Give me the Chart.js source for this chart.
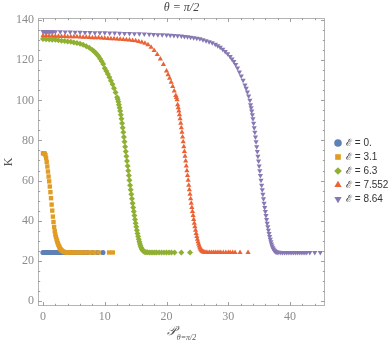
<!DOCTYPE html>
<html>
<head>
<meta charset="utf-8">
<script src="https://cdn.jsdelivr.net/npm/chart.js@4"></script>
<style>
  html, body { margin: 0; padding: 0; background: #fff; }
  #wrap { position: relative; width: 388px; height: 343px; }
</style>
</head>
<body>
<div id="wrap"><canvas id="chart" width="388" height="343"></canvas></div>
<script>
const X_TICKS = [0, 10, 20, 30, 40];
const Y_TICKS = [0, 20, 40, 60, 80, 100, 120, 140];
const X_MINOR = [2, 4, 6, 8, 12, 14, 16, 18, 22, 24, 26, 28, 32, 34, 36, 38, 42, 44];
const Y_MINOR = [5, 10, 15, 25, 30, 35, 45, 50, 55, 65, 70, 75, 85, 90, 95, 105, 110, 115, 125, 130, 135];
const LABELS = ["ℰ = 0.", "ℰ = 3.1", "ℰ = 6.3", "ℰ = 7.552", "ℰ = 8.64"];
const COLORS = ["#5e81b5", "#e19c24", "#8fb032", "#eb6235", "#8778b3"];

// [P, K] pairs
const E0 = [
  [0, 24.1], [0.15, 24.1], [0.3, 24.1], [0.45, 24.1], [0.6, 24.1], [0.8, 24.1], [1.0, 24.1], [1.2, 24.1],
  [1.4, 24.1], [1.6, 24.1], [1.8, 24.1], [2.0, 24.1], [2.2, 24.1], [2.4, 24.1], [2.6, 24.1], [2.8, 24.1],
  [3.0, 24.1], [3.2, 24.1], [3.5, 24.1], [3.8, 24.1], [4.2, 24.1], [4.6, 24.1], [5.0, 24.1], [5.5, 24.1],
  [6.0, 24.1], [6.6, 24.1], [7.2, 24.1], [8.0, 24.1], [8.8, 24.1], [9.7, 24.1]
];
const E31 = [
  [0.0, 73.6], [0.1, 73.6], [0.2, 73.5], [0.3, 73.3], [0.4, 72.6], [0.5, 71.2], [0.6, 69.3], [0.7, 67.0],
  [0.8, 64.5], [0.9, 62.0], [1.0, 59.6], [1.1, 57.0], [1.2, 54.2], [1.3, 51.2], [1.4, 48.0], [1.5, 45.0],
  [1.6, 42.0], [1.7, 39.3], [1.8, 36.8], [1.9, 34.7], [2.0, 33.0], [2.1, 31.8], [2.2, 30.6], [2.3, 29.6],
  [2.4, 28.7], [2.5, 27.9], [2.6, 27.2], [2.7, 26.5], [2.8, 25.9], [2.9, 25.5], [3.0, 25.2], [3.2, 24.7],
  [3.4, 24.4], [3.6, 24.2], [3.8, 24.1], [4.0, 24.1], [4.3, 24.1], [4.6, 24.1], [5.0, 24.1], [5.4, 24.1],
  [5.8, 24.1], [6.2, 24.1], [6.7, 24.1], [7.2, 24.1], [7.7, 24.1], [8.3, 24.1], [9.0, 24.1], [10.7, 24.1],
  [11.3, 24.1]
];
const E63 = [
  [0, 130.6], [0.5, 130.5], [1.0, 130.4], [1.5, 130.3], [2.0, 130.2], [2.5, 130.0], [3.0, 129.8], [3.5, 129.6],
  [4.0, 129.4], [4.5, 129.2], [5.0, 128.9], [5.5, 128.6], [6.0, 128.2], [6.5, 127.7], [7.0, 127.0], [7.5, 126.2],
  [8.0, 125.1], [8.25, 124.5], [8.5, 123.7], [8.75, 122.9], [9.0, 122.0], [9.25, 120.8], [9.5, 119.5], [9.75, 118.2],
  [10.0, 116.0], [10.25, 114.6], [10.5, 113.1], [10.75, 111.5], [11.0, 109.8], [11.25, 108.0], [11.5, 106.0], [11.75, 103.9],
  [12.0, 101.6], [12.1, 100.5], [12.2, 99.3], [12.3, 97.8], [12.4, 96.3], [12.5, 94.7], [12.6, 92.8], [12.7, 90.8],
  [12.8, 88.6], [12.9, 86.4], [13.0, 84.1], [13.1, 81.7], [13.2, 79.3], [13.3, 76.9], [13.4, 74.5], [13.5, 72.1],
  [13.6, 69.7], [13.7, 67.3], [13.8, 64.9], [13.9, 62.5], [14.0, 60.1], [14.1, 57.7], [14.2, 55.4], [14.3, 53.1],
  [14.4, 50.9], [14.5, 48.7], [14.6, 46.6], [14.7, 44.6], [14.8, 42.6], [14.9, 40.6], [15.0, 38.7], [15.1, 36.9],
  [15.2, 35.2], [15.3, 33.6], [15.4, 32.1], [15.5, 30.7], [15.6, 29.4], [15.7, 28.3], [15.8, 27.3], [15.9, 26.5],
  [16.0, 25.9], [16.1, 25.4], [16.2, 25.0], [16.3, 24.7], [16.4, 24.5], [16.5, 24.4], [16.7, 24.2], [16.9, 24.2],
  [17.2, 24.1], [17.5, 24.1], [17.8, 24.1], [18.1, 24.1], [18.4, 24.1], [18.8, 24.1], [19.2, 24.1], [19.6, 24.1],
  [20.0, 24.1], [20.4, 24.1], [20.8, 24.1], [21.3, 24.1], [22.4, 24.1], [23.8, 24.1]
];
const E7552 = [
  [0, 132.2], [0.5, 132.2], [1, 132.1], [1.5, 132.1], [2, 132.0], [2.5, 132.0], [3, 131.9], [3.5, 131.9],
  [4, 131.8], [4.5, 131.8], [5, 131.7], [5.5, 131.7], [6, 131.6], [6.5, 131.5], [7, 131.5], [7.5, 131.4],
  [8, 131.3], [8.5, 131.3], [9, 131.2], [9.5, 131.1], [10, 131.0], [10.5, 130.9], [11, 130.8], [11.5, 130.7],
  [12, 130.6], [12.5, 130.5], [13, 130.4], [13.5, 130.2], [14, 130.1], [14.5, 129.9], [15, 129.7], [15.5, 129.4],
  [16, 129.0], [16.5, 128.5], [17.0, 127.8], [17.5, 126.5], [18.0, 124.9], [18.5, 122.9], [19.0, 120.6], [19.5, 117.9],
  [20.0, 114.6], [20.25, 112.8], [20.5, 111.0], [20.75, 109.0], [21.0, 106.9], [21.25, 104.7], [21.5, 102.4], [21.6, 101.4],
  [21.7, 100.3], [21.8, 97.8], [21.9, 96.3], [22.0, 94.7], [22.1, 92.8], [22.2, 90.8], [22.3, 88.6], [22.4, 86.4],
  [22.5, 84.1], [22.6, 81.7], [22.7, 79.3], [22.8, 76.9], [22.9, 74.5], [23.0, 72.1], [23.1, 69.7], [23.2, 67.3],
  [23.3, 64.9], [23.4, 62.5], [23.5, 60.1], [23.6, 57.7], [23.7, 55.4], [23.8, 53.1], [23.9, 50.9], [24.0, 48.7],
  [24.1, 46.6], [24.2, 44.6], [24.3, 42.6], [24.4, 40.6], [24.5, 38.7], [24.6, 36.9], [24.7, 35.2], [24.8, 33.6],
  [24.9, 32.1], [25.0, 30.7], [25.1, 29.4], [25.2, 28.3], [25.3, 27.3], [25.4, 26.5], [25.5, 25.9], [25.6, 25.4],
  [25.7, 25.0], [25.8, 24.7], [25.9, 24.5], [26.0, 24.4], [26.2, 24.2], [26.4, 24.2], [26.7, 24.1], [27.0, 24.1],
  [27.3, 24.1], [27.6, 24.1], [27.9, 24.1], [28.2, 24.1], [28.5, 24.1], [28.8, 24.1], [29.2, 24.1], [29.6, 24.1],
  [30.0, 24.1], [30.3, 24.1], [30.7, 24.1], [31.1, 24.1], [31.9, 24.1], [33.2, 24.1]
];
const E864 = [
  [0, 134.4], [0.2, 134.4], [0.4, 134.4], [0.6, 134.4], [0.8, 134.3], [1.0, 134.3], [1.3, 134.3], [1.6, 134.3],
  [2.0, 134.2], [2.8, 134.2], [3.6, 134.1], [4.4, 134.1], [5.2, 134.0], [6.0, 134.0], [6.8, 133.9], [7.6, 133.9],
  [8.4, 133.8], [9.2, 133.8], [10.0, 133.7], [10.8, 133.6], [11.6, 133.6], [12.4, 133.5], [13.2, 133.4], [14.0, 133.4],
  [14.8, 133.3], [15.6, 133.2], [16.4, 133.1], [17.2, 133.0], [17.9, 132.9], [18.6, 132.8], [19.3, 132.7], [20.0, 132.6],
  [20.6, 132.5], [21.2, 132.4], [21.8, 132.3], [22.4, 132.1], [22.9, 131.9], [23.4, 131.7], [23.9, 131.5], [24.4, 131.3],
  [24.9, 131.0], [25.4, 130.7], [25.9, 130.3], [26.4, 129.8], [26.9, 129.3], [27.4, 128.7], [27.9, 128.0], [28.3, 127.3],
  [28.7, 126.5], [29.1, 125.5], [29.5, 124.4], [29.9, 123.2], [30.3, 121.9], [30.6, 120.7], [30.9, 119.4], [31.2, 117.9],
  [31.5, 116.1], [31.8, 114.2], [32.1, 112.2], [32.4, 110.0], [32.7, 107.7], [32.9, 106.0], [33.1, 104.2], [33.3, 102.2],
  [33.5, 100.0], [33.6, 97.8], [33.7, 96.3], [33.8, 94.7], [33.9, 92.8], [34.0, 90.8], [34.1, 88.6], [34.2, 86.4],
  [34.3, 84.1], [34.4, 81.7], [34.5, 79.3], [34.6, 76.9], [34.7, 74.5], [34.8, 72.1], [34.9, 69.7], [35.0, 67.3],
  [35.1, 64.9], [35.2, 62.5], [35.3, 60.1], [35.4, 57.7], [35.5, 55.4], [35.6, 53.1], [35.7, 50.9], [35.8, 48.7],
  [35.9, 46.6], [36.0, 44.6], [36.1, 42.6], [36.2, 40.6], [36.3, 38.7], [36.4, 36.9], [36.5, 35.2], [36.6, 33.6],
  [36.7, 32.1], [36.8, 30.7], [36.9, 29.4], [37.0, 28.3], [37.1, 27.3], [37.2, 26.5], [37.3, 25.9], [37.4, 25.4],
  [37.5, 25.0], [37.6, 24.7], [37.7, 24.5], [37.8, 24.4], [38.0, 24.2], [38.2, 24.2], [38.5, 24.1], [38.8, 24.1],
  [39.1, 24.1], [39.4, 24.1], [39.7, 24.1], [40.0, 24.1], [40.3, 24.1], [40.6, 24.1], [40.9, 24.1], [41.2, 24.1],
  [41.5, 24.1], [41.8, 24.1], [42.1, 24.1], [42.4, 24.1], [42.7, 24.1], [43.2, 24.1], [44.0, 24.1], [44.9, 24.1]
];

const SERIES = [E0, E31, E63, E7552, E864];
const MARKERS = [
  { style: "circle", radius: 2.6, rotation: 0, legendRadius: 3.8 },
  { style: "rect", radius: 3.1, rotation: 0, legendRadius: 4 },
  { style: "rectRot", radius: 3.0, rotation: 0, legendRadius: 3.8 },
  { style: "triangle", radius: 3.0, rotation: 0, legendRadius: 4.2 },
  { style: "triangle", radius: 3.0, rotation: 180, legendRadius: 4.2 },
];

const frame = {
  id: "frame",
  beforeDatasetsDraw(chart) {
    const { ctx, chartArea: a, scales: { x, y } } = chart;
    ctx.save();
    ctx.strokeStyle = "#b4b4b4";
    ctx.lineWidth = 1;
    ctx.strokeRect(Math.round(a.left) + 0.5, Math.round(a.top) + 0.5, Math.round(a.right - a.left) - 1, Math.round(a.bottom - a.top) - 1);
    ctx.strokeStyle = "#a0a0a0";
    ctx.beginPath();
    const xt = [...X_TICKS.map((v) => [v, 4]), ...X_MINOR.map((v) => [v, 2.2])];
    xt.forEach(([v, len]) => {
      const px = Math.round(x.getPixelForValue(v)) + 0.5;
      ctx.moveTo(px, a.bottom); ctx.lineTo(px, a.bottom - len);
      ctx.moveTo(px, a.top); ctx.lineTo(px, a.top + len);
    });
    const yt = [...Y_TICKS.map((v) => [v, 4]), ...Y_MINOR.map((v) => [v, 2.2])];
    yt.forEach(([v, len]) => {
      const py = Math.round(y.getPixelForValue(v)) + 0.5;
      ctx.moveTo(a.left, py); ctx.lineTo(a.left + len, py);
      ctx.moveTo(a.right, py); ctx.lineTo(a.right - len, py);
    });
    ctx.stroke();
    ctx.restore();
  },
  afterDraw(chart) {
    const { ctx, chartArea: a } = chart;
    const cx = (a.left + a.right) / 2;
    ctx.save();
    ctx.fillStyle = "#444";
    ctx.textBaseline = "middle";
    ctx.textAlign = "center";
    ctx.font = 'italic 12px "Liberation Serif"';
    ctx.fillText("θ = π/2", cx, 8);

    // y axis title
    ctx.save();
    ctx.translate(9, (a.top + a.bottom) / 2);
    ctx.rotate(-Math.PI / 2);
    ctx.font = '12px "Liberation Serif"';
    ctx.fillStyle = "#555";
    ctx.fillText("K", 0, 0);
    ctx.restore();

    // x axis title with subscript
    ctx.textAlign = "left";
    ctx.fillStyle = "#555";
    ctx.font = 'italic 13px "DejaVu Serif"';
    const main = "𝒫";
    const sub = "θ=π/2";
    const mw = ctx.measureText(main).width;
    ctx.font = 'italic 8px "Liberation Serif"';
    const sw = ctx.measureText(sub).width;
    const start = cx - (mw + sw + 1) / 2;
    ctx.font = 'italic 13px "DejaVu Serif"';
    ctx.fillText(main, start, 332);
    ctx.font = 'italic 8px "Liberation Serif"';
    ctx.fillText(sub, start + mw + 1, 338);

    // legend
    ctx.font = '10px "Liberation Sans"';
    LABELS.forEach((label, i) => {
      const ly = 143 + i * 14;
      const m = MARKERS[i];
      ctx.fillStyle = COLORS[i];
      ctx.strokeStyle = COLORS[i];
      Chart.helpers.drawPoint(ctx, { pointStyle: m.style, radius: m.legendRadius, rotation: m.rotation, borderWidth: 0 }, 338, ly);
      ctx.fillStyle = "#333";
      ctx.fillText(label, 346, ly + 0.5);
    });
    ctx.restore();
  },
};

const tickFont = { family: '"Liberation Serif"', size: 12 };

new Chart(document.getElementById("chart"), {
  type: "scatter",
  data: {
    datasets: SERIES.map((points, i) => ({
      label: LABELS[i],
      data: points.map(([x, y]) => ({ x, y })),
      backgroundColor: COLORS[i],
      borderColor: COLORS[i],
      borderWidth: 0,
      pointStyle: MARKERS[i].style,
      pointRadius: MARKERS[i].radius,
      pointRotation: MARKERS[i].rotation,
      order: SERIES.length - i,
    })),
  },
  options: {
    responsive: false,
    animation: false,
    layout: { padding: { left: 0, top: 18, right: 63, bottom: 0 } },
    plugins: { legend: { display: false }, tooltip: { enabled: false }, title: { display: false } },
    scales: {
      x: {
        type: "linear",
        min: -0.81,
        max: 45.66,
        afterBuildTicks: (s) => { s.ticks = X_TICKS.map((value) => ({ value })); },
        afterFit: (s) => { s.height = 37; },
        grid: { display: false, drawTicks: false },
        border: { display: false },
        ticks: { font: tickFont, color: "#8c8c8c", padding: 4, maxRotation: 0, autoSkip: false },
      },
      y: {
        type: "linear",
        min: -2.6,
        max: 141.1,
        afterBuildTicks: (s) => { s.ticks = Y_TICKS.map((value) => ({ value })); },
        afterFit: (s) => { s.width = 38; },
        grid: { display: false, drawTicks: false },
        border: { display: false },
        ticks: { font: tickFont, color: "#8c8c8c", padding: 4, autoSkip: false },
      },
    },
  },
  plugins: [frame],
});
</script>
</body>
</html>
